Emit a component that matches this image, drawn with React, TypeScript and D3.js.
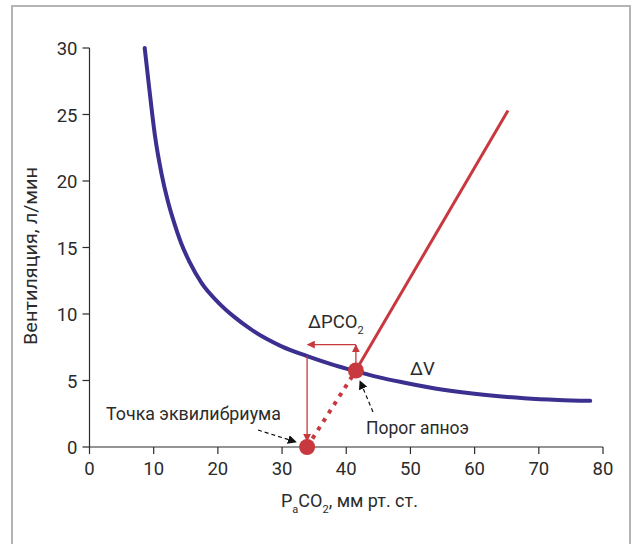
import React from "react";
import * as d3 from "d3";

const W = 632;
const H = 544;

const xTicks = [0, 10, 20, 30, 40, 50, 60, 70, 80];
const yTicks = [0, 5, 10, 15, 20, 25, 30];

// Blue curve: ventilation response
const curveX = [8.6, 9.3, 10.2, 11.2, 12.2, 13.1, 14.3, 15.6, 17.5, 20, 22.5, 25, 27.5, 30, 33.8, 37.5, 41.3, 45, 48.9, 55.1, 61.4, 67.7, 73, 78];
const curveY = [30, 27.0, 23.4, 20.6, 18.5, 17.0, 15.3, 13.9, 12.3, 10.9, 9.8, 8.9, 8.15, 7.55, 6.85, 6.25, 5.72, 5.25, 4.85, 4.3, 3.92, 3.67, 3.54, 3.47];

// Red line (CO2 response) and key points
const redLineX = [41.5, 65.2];
const redLineY = [5.75, 25.3];
const equilibrium = { x: 33.9, y: 0 };
const apnea = { x: 41.5, y: 5.75 };
const deltaLevel = 7.7;
const curveAtEq = 6.85;

const FONT = "Roboto, 'Liberation Sans', sans-serif";
const BLUE = "#3b2f8f";
const RED = "#c8383f";
const TXT = "#2b2b2b";

export default function App() {
  const x = d3.scaleLinear().domain([0, 80]).range([89.5, 603]);
  const y = d3.scaleLinear().domain([0, 30]).range([447, 48]);

  const blueLine = d3
    .line<number>()
    .x((_, i) => x(curveX[i]))
    .y((d) => y(d))
    .curve(d3.curveMonotoneX)(curveY) as string;

  const y0 = y(0);
  const x0 = x(0);

  return (
    <svg
      width={W}
      height={H}
      style={{ position: "absolute", left: 0, top: 0, background: "#fff", fontFamily: FONT }}
    >
      <defs>
        <marker id="redHead" viewBox="0 0 10 10" refX="9" refY="5" markerWidth="8" markerHeight="8" orient="auto" markerUnits="userSpaceOnUse">
          <path d="M0,0 L10,5 L0,10 Z" fill={RED} />
        </marker>
        <marker id="blackHead" viewBox="0 0 10 10" refX="9" refY="5" markerWidth="9" markerHeight="9" orient="auto" markerUnits="userSpaceOnUse">
          <path d="M0,0 L10,5 L0,10 Z" fill="#111" />
        </marker>
      </defs>

      {/* frame */}
      <path d={`M12,${H + 5} L12,6 L630,6 L630,${H + 5}`} fill="none" stroke="#b4b4b4" strokeWidth={2} />

      {/* axes */}
      <g stroke={TXT} strokeWidth={1.2} fill="none">
        <line x1={x0} x2={x(80)} y1={y0} y2={y0} />
        <line x1={x0} x2={x0} y1={y(30)} y2={y0} />
        {xTicks.map((t) => (
          <line key={"xt" + t} x1={x(t)} x2={x(t)} y1={y0} y2={y0 + 7} />
        ))}
        {yTicks.map((t) => (
          <line key={"yt" + t} x1={x0 - 7} x2={x0} y1={y(t)} y2={y(t)} />
        ))}
      </g>
      {xTicks.map((t) => (
        <text key={"xl" + t} x={x(t)} y={y0 + 28} textAnchor="middle" fontSize={18.5} fill={TXT}>
          {t}
        </text>
      ))}
      {yTicks.map((t) => (
        <text key={"yl" + t} x={x0 - 12} y={y(t) + 7} textAnchor="end" fontSize={18.5} fill={TXT}>
          {t}
        </text>
      ))}

      {/* axis titles */}
      <text x={281} y={507} fontSize={18} fill={TXT}>
        <tspan>P</tspan>
        <tspan fontSize={11} dy={6}>a</tspan>
        <tspan dy={-6}>CO</tspan>
        <tspan fontSize={11} dy={6}>2</tspan>
        <tspan dy={-6}>, мм рт. ст.</tspan>
      </text>
      <text
        transform={`translate(37,256) rotate(-90)`}
        textAnchor="middle"
        fontSize={18}
        fill={TXT}
        textLength={178}
        lengthAdjust="spacingAndGlyphs"
      >
        Вентиляция, л/мин
      </text>

      {/* blue curve */}
      <path d={blueLine} fill="none" stroke={BLUE} strokeWidth={4} strokeLinecap="round" />

      {/* red solid line */}
      <line x1={x(redLineX[0])} y1={y(redLineY[0])} x2={x(redLineX[1])} y2={y(redLineY[1])} stroke={RED} strokeWidth={3} />
      {/* red dotted line */}
      <line
        x1={x(equilibrium.x)}
        y1={y(equilibrium.y)}
        x2={x(apnea.x)}
        y2={y(apnea.y)}
        stroke={RED}
        strokeWidth={4}
        strokeDasharray="4 6"
      />

      {/* thin red arrows */}
      <g stroke={RED} strokeWidth={1.3} fill="none">
        <line x1={x(apnea.x)} y1={y(deltaLevel)} x2={x(equilibrium.x) + 0.5} y2={y(deltaLevel)} markerEnd="url(#redHead)" />
        <line x1={x(apnea.x)} y1={y(apnea.y) - 4} x2={x(apnea.x)} y2={y(deltaLevel) + 0.5} markerEnd="url(#redHead)" />
        <line x1={x(equilibrium.x)} y1={y(curveAtEq)} x2={x(equilibrium.x)} y2={y(0) - 6} markerEnd="url(#redHead)" />
      </g>

      {/* black dashed pointers */}
      <g stroke="#111" strokeWidth={1.2} fill="none" strokeDasharray="4 3">
        <line x1={258} y1={430} x2={296} y2={442} markerEnd="url(#blackHead)" />
        <line x1={373} y1={412} x2={360} y2={381} markerEnd="url(#blackHead)" />
      </g>

      {/* points */}
      <circle cx={x(equilibrium.x)} cy={y(equilibrium.y)} r={8} fill={RED} />
      <circle cx={x(apnea.x)} cy={y(apnea.y)} r={8} fill={RED} />

      {/* labels */}
      <text x={106} y={420} fontSize={18.5} fill={TXT} textLength={175} lengthAdjust="spacingAndGlyphs">Точка эквилибриума</text>
      <text x={366} y={434} fontSize={18.5} fill={TXT} textLength={103} lengthAdjust="spacingAndGlyphs">Порог апноэ</text>
      <text x={410} y={375} fontSize={18.5} fill={TXT}>ΔV</text>
      <text x={308} y={328} fontSize={18.5} fill={TXT}>
        <tspan>ΔPCO</tspan>
        <tspan fontSize={11} dy={6}>2</tspan>
      </text>
    </svg>
  );
}
